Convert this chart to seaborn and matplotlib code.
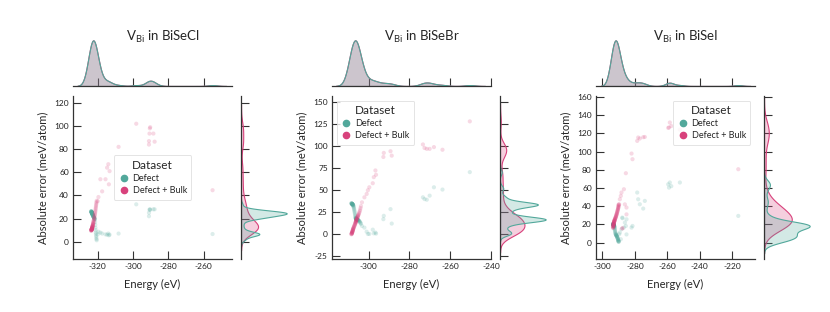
import pandas as pd
import matplotlib.pyplot as plt
import seaborn as sns
from matplotlib.lines import Line2D

sns.set_style("ticks")
plt.rcParams["font.family"] = ["Lato", "DejaVu Sans"]
plt.rcParams["axes.unicode_minus"] = False
plt.rcParams["mathtext.fontset"] = "custom"
plt.rcParams["mathtext.rm"] = "Lato"

teal = "#52a89b"
pink = "#d8427c"
palette = {"Defect": teal, "Defect + Bulk": pink}

# each structure has one energy and one error per training set

# ---- V_Bi in BiSeCl ----
cl_energy = [-323.7, -323.7, -323.6, -323.6, -323.6, -323.5, -323.5, -323.5, -323.5, -323.4,
             -323.4, -323.4, -323.4, -323.3, -323.3, -323.3, -323.3, -323.2, -323.2, -323.2,
             -323.2, -323.1, -323.1, -323.1, -323.0, -323.0, -323.0, -322.9, -322.9, -322.8,
             -322.8, -322.7, -322.7, -322.6, -322.6, -322.5, -322.4, -322.4, -322.3, -322.2,
             -322.1, -322.0, -321.9, -321.8, -321.7, -321.6, -321.5, -321.4, -321.3, -321.2,
             -321.1, -321.0, -320.9, -320.8, -320.7, -320.6,
             -320.0, -319.6, -318.5, -317.5, -315.6, -314.7, -314.0, -313.7, -313.3, -308.2,
             -298.2, -291.0, -291.0, -290.7, -290.5, -290.3, -288.5, -287.8, -255.0]
cl_defect = [26.4, 26.2, 26.1, 26.0, 25.9, 25.8, 25.7, 25.6, 25.5, 25.4,
             25.3, 25.2, 25.1, 25.0, 24.9, 24.8, 24.7, 24.6, 24.5, 24.4,
             24.3, 24.2, 24.1, 24.0, 23.9, 23.8, 23.6, 23.4, 23.2, 23.0,
             22.8, 22.6, 22.4, 22.2, 22.0, 21.8, 21.6, 21.4, 21.2, 21.0,
             20.7, 20.4, 20.1, 19.8, 19.5, 19.2, 17.0, 14.5, 12.0, 10.0,
             8.0, 6.5, 5.0, 3.5, 2.2, 1.2,
             6.3, 8.6, 7.8, 7.0, 6.3, 6.0, 7.0, 5.5, 6.0, 7.0,
             32.3, 22.0, 25.0, 27.6, 28.0, 27.6, 28.0, 28.0, 6.6]
cl_bulk = [9.4, 9.6, 9.8, 10.0, 10.1, 10.2, 10.3, 10.4, 10.5, 10.6,
           10.7, 10.8, 10.9, 11.0, 11.1, 11.2, 11.3, 11.4, 11.5, 11.7,
           11.9, 12.1, 12.3, 12.5, 12.7, 12.9, 13.1, 13.4, 13.7, 14.0,
           14.3, 14.6, 15.0, 15.4, 15.8, 16.3, 16.8, 17.4, 18.0, 18.7,
           19.4, 20.2, 21.0, 21.9, 22.8, 23.8, 24.8, 25.9, 27.0, 28.2,
           29.4, 30.6, 31.8, 33.0, 34.2, 35.4,
           35.0, 38.6, 54.0, 43.5, 54.0, 64.0, 67.0, 49.6, 61.0, 82.0,
           102.0, 84.0, 87.0, 93.5, 98.0, 99.0, 93.5, 86.5, 44.5]

# ---- V_Bi in BiSeBr ----
br_energy = [-308.5, -308.4, -308.4, -308.3, -308.3, -308.2, -308.2, -308.1, -308.1, -308.0,
             -308.0, -307.9, -307.9, -307.8, -307.8, -307.7, -307.7, -307.6, -307.6, -307.5,
             -307.4, -307.3, -307.2, -307.1, -307.0, -306.9, -306.8, -306.7, -306.6, -306.5,
             -306.4, -306.4, -306.3, -306.3, -306.2, -306.2, -306.1, -306.1, -306.0, -306.0,
             -305.9, -305.8, -305.7, -305.6, -305.5, -305.4, -305.3, -305.2, -305.1, -305.0,
             -304.8, -304.6, -304.4, -304.2, -304.0, -303.8,
             -303.3, -302.1, -301.0, -300.4, -299.7, -298.0, -297.5, -296.7, -296.4,
             -292.8, -292.6, -289.3, -288.7,
             -273.4, -272.6, -271.5, -270.1, -268.0, -263.8, -250.4]
br_defect = [35.3, 35.1, 35.0, 34.9, 34.8, 34.7, 34.6, 34.5, 34.4, 34.3,
             34.2, 34.1, 34.0, 33.8, 33.6, 33.4, 33.2, 33.0, 32.6, 32.0,
             31.2, 30.2, 29.0, 27.8, 26.5, 25.2, 23.8, 22.4, 21.0, 19.8,
             18.8, 18.5, 18.2, 18.0, 17.8, 17.6, 17.4, 17.3, 17.2, 17.1,
             17.0, 16.9, 16.8, 16.7, 16.6, 16.5, 16.4, 16.2, 16.0, 15.8,
             15.4, 14.9, 14.3, 13.6, 12.8, 11.8,
             9.5, 7.6, 3.0, 0.4, 0.4, 5.3, 1.1, 2.0, 0.8,
             17.2, 21.0, 28.6, 12.2,
             42.0, 40.0, 39.3, 43.9, 53.4, 50.8, 70.6]
br_bulk = [0.0, 0.3, 0.6, 0.9, 1.2, 1.5, 1.8, 2.1, 2.4, 2.8,
           3.2, 3.6, 4.0, 4.4, 4.8, 5.2, 5.6, 6.0, 6.5, 7.0,
           7.5, 8.0, 8.6, 9.2, 9.8, 10.4, 11.0, 11.6, 12.2, 12.8,
           13.3, 13.7, 14.1, 14.5, 14.9, 15.3, 15.7, 16.1, 16.5, 16.9,
           17.4, 17.9, 18.4, 18.9, 19.4, 20.0, 20.6, 21.2, 21.9, 22.6,
           23.6, 24.8, 26.2, 27.8, 29.8, 32.0,
           36.3, 42.0, 45.8, 50.0, 53.4, 58.0, 64.9, 72.5, 67.6,
           87.8, 92.4, 94.3, 89.3,
           102.0, 98.0, 97.0, 97.0, 99.0, 96.0, 128.2]

# ---- V_Bi in BiSeI ----
i_energy = [-293.5, -293.5, -293.4, -293.4, -293.4, -293.3, -293.3, -293.3, -293.3, -293.2,
            -293.2, -293.2, -293.2, -293.1, -293.1, -293.1, -293.0, -293.0, -293.0, -292.9,
            -292.9, -292.8, -292.8, -292.7, -292.7, -292.6, -292.5, -292.5, -292.4, -292.3,
            -292.2, -292.1, -292.0, -291.9, -291.8, -291.7, -291.6, -291.5, -291.4, -291.3,
            -291.2, -291.1, -291.0, -290.9, -290.8, -290.7, -290.6, -290.5, -290.4, -290.3,
            -290.2, -290.2, -290.1, -290.1, -290.0, -290.0,
            -289.7, -289.3, -288.7, -288.3, -287.8, -287.7, -286.8, -286.2, -285.6, -285.2,
            -285.2, -282.1, -281.5, -278.6, -278.0, -277.0, -274.9, -273.9,
            -259.5, -259.0, -258.5, -257.6, -252.3, -216.3]
i_defect = [20.6, 20.5, 20.4, 20.3, 20.2, 20.1, 20.0, 19.9, 19.8, 19.7,
            19.6, 19.5, 19.4, 19.3, 19.2, 19.1, 19.0, 18.9, 18.8, 18.6,
            18.4, 18.2, 18.0, 17.6, 17.2, 16.6, 15.9, 15.0, 14.0, 13.0,
            12.0, 11.0, 10.2, 9.6, 9.1, 8.7, 8.4, 8.1, 7.8, 7.5,
            7.2, 6.8, 6.4, 5.9, 5.4, 4.9, 4.4, 3.9, 3.4, 2.9,
            2.4, 2.0, 1.6, 1.3, 1.0, 0.8,
            9.2, 11.0, 3.7, 14.7, 27.5, 26.8, 16.5, 22.0, 18.3, 25.6,
            9.0, 16.5, 18.3, 55.0, 47.6, 42.1, 37.4, 45.8,
            64.0, 60.4, 66.0, 62.0, 66.0, 29.3]
i_bulk = [16.0, 16.5, 17.0, 17.4, 17.8, 18.2, 18.5, 18.8, 19.1, 19.4,
          19.7, 20.0, 20.3, 20.6, 20.9, 21.2, 21.5, 21.8, 22.1, 22.4,
          22.7, 23.0, 23.3, 23.6, 23.9, 24.2, 24.6, 25.0, 25.4, 25.8,
          26.2, 26.7, 27.2, 27.7, 28.2, 28.7, 29.3, 29.9, 30.5, 31.1,
          31.7, 32.3, 33.0, 33.7, 34.4, 35.1, 35.8, 36.5, 37.2, 37.9,
          38.6, 39.3, 40.0, 40.7, 41.4, 42.0,
          42.0, 47.6, 51.3, 55.0, 15.4, 16.0, 58.6, 42.0, 76.2, 38.5,
          31.0, 97.8, 91.6, 111.7, 115.4, 114.3, 115.8, 116.0,
          126.0, 126.4, 131.9, 128.0, 124.0, 80.6]

panels = [
    dict(title="V$_{\\mathrm{Bi}}$ in BiSeCl", e=cl_energy, d=cl_defect, b=cl_bulk,
         xlim=(-334, -244), ylim=(-15, 126), xticks=[-320, -300, -280, -260],
         yticks=[0, 20, 40, 60, 80, 100, 120], left=73, loc="center", bw=0.5),
    dict(title="V$_{\\mathrm{Bi}}$ in BiSeBr", e=br_energy, d=br_defect, b=br_bulk,
         xlim=(-318, -240), ylim=(-28, 157), xticks=[-300, -280, -260, -240],
         yticks=[-25, 0, 25, 50, 75, 100, 125, 150], left=332, loc="upper left", bw=0.5),
    dict(title="V$_{\\mathrm{Bi}}$ in BiSeI", e=i_energy, d=i_defect, b=i_bulk,
         xlim=(-304, -206), ylim=(-18, 161), xticks=[-300, -280, -260, -240, -220],
         yticks=[0, 20, 40, 60, 80, 100, 120, 140, 160], left=596, loc="upper right", bw=0.65),
]

W, H = 830, 312
fig = plt.figure(figsize=(W / 100, H / 100), dpi=100)
spine_c = "#333333"

for p in panels:
    n = len(p["e"])
    df = pd.DataFrame({
        "Energy": p["e"] + p["e"],
        "Error": p["d"] + p["b"],
        "Dataset": ["Defect"] * n + ["Defect + Bulk"] * n,
    })
    L = p["left"]
    ax = fig.add_axes([L / W, 53 / H, 159 / W, 163 / H])
    ax_top = fig.add_axes([L / W, 226 / H, 159 / W, 48 / H], sharex=ax)
    ax_r = fig.add_axes([(L + 168) / W, 53 / H, 48 / W, 163 / H], sharey=ax)

    sns.scatterplot(data=df, x="Energy", y="Error", hue="Dataset", palette=palette,
                    s=9, alpha=0.2, linewidth=0, ax=ax, legend=False)
    sns.kdeplot(data=df, x="Energy", hue="Dataset", palette=palette, fill=True,
                alpha=0.25, linewidth=0.8, bw_adjust=0.5, ax=ax_top, legend=False)
    sns.kdeplot(data=df, y="Error", hue="Dataset", palette=palette, fill=True,
                alpha=0.25, linewidth=0.8, bw_adjust=p["bw"], ax=ax_r, legend=False)

    ax.set_xlim(p["xlim"])
    ax.set_ylim(p["ylim"])
    ax.set_xticks(p["xticks"])
    ax.set_yticks(p["yticks"])
    ax_top.set_ylim(bottom=0)
    ax_r.set_xlim(left=0)

    for a in (ax, ax_top, ax_r):
        for s in a.spines.values():
            s.set_color(spine_c)
            s.set_linewidth(0.9)
        a.tick_params(direction="in", length=6, width=0.8, color=spine_c,
                      labelsize=6, pad=3, labelcolor="#222222")
    ax.spines[["top", "right"]].set_visible(False)
    ax_top.spines[["top", "left", "right"]].set_visible(False)
    ax_r.spines[["top", "right", "bottom"]].set_visible(False)
    ax_top.tick_params(labelbottom=False, left=False, labelleft=False)
    ax_r.tick_params(labelleft=False, bottom=False, labelbottom=False)
    ax_top.set_xlabel("")
    ax_top.set_ylabel("")
    ax_r.set_xlabel("")
    ax_r.set_ylabel("")

    ax.set_xlabel("Energy (eV)", fontsize=8, labelpad=6)
    ax.set_ylabel("Absolute error (meV/atom)", fontsize=8, labelpad=4)

    handles = [Line2D([], [], marker="o", linestyle="", color=teal, markersize=4.5),
               Line2D([], [], marker="o", linestyle="", color=pink, markersize=4.5)]
    leg = ax.legend(handles, ["Defect", "Defect + Bulk"], title="Dataset", loc=p["loc"],
                    fontsize=6.5, title_fontsize=8.5, frameon=True, handletextpad=0.4,
                    borderpad=0.5, labelspacing=0.35, handlelength=1.2)
    leg.get_frame().set_edgecolor("#dddddd")
    leg.get_frame().set_linewidth(0.7)

    fig.text((L + 90) / W, 1 - 37 / H, p["title"], ha="center", va="center", fontsize=9.5)

fig.savefig("out.png", dpi=100)
